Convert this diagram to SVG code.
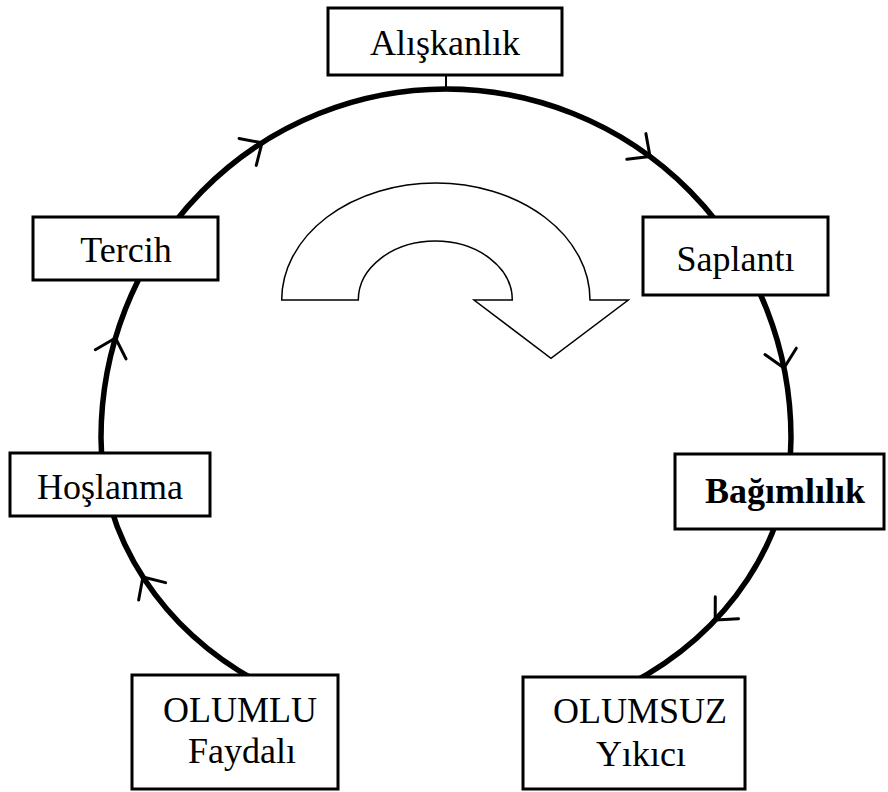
<svg xmlns="http://www.w3.org/2000/svg" width="888" height="792" viewBox="0 0 888 792">
  <style>
    .box { fill: #ffffff; stroke: #000000; stroke-width: 3; }
    .lbl { font-family: "Liberation Serif", "Times New Roman", serif; font-size: 36px; fill: #000000; text-anchor: middle; }
    .bold { font-weight: bold; }
    .ring { fill: none; stroke: #000000; stroke-width: 5.5; }
    .chev { fill: none; stroke: #000000; stroke-width: 3; stroke-linecap: round; stroke-linejoin: round; }
    .big { fill: #ffffff; stroke: #000000; stroke-width: 1.5; stroke-linejoin: miter; }
  </style>
  <defs>
    <polyline id="chevron" class="chev" points="-17,-16 0,0 -17,16"/>
  </defs>

  <rect width="888" height="792" fill="#ffffff"/>

  <g id="connectors">
    <path class="ring" d="M 263.6,685 A 345 291 0 0 1 101,438 A 345 349 0 0 1 446,89 A 345 349 0 0 1 791,438 A 345 291 0 0 1 628.4,685"/>
    <line x1="446" y1="75" x2="446" y2="89" stroke="#000000" stroke-width="2"/>
    <use href="#chevron" transform="translate(262,142.8) rotate(-32.5)"/>
    <use href="#chevron" transform="translate(650,156.6) rotate(36.6)"/>
    <use href="#chevron" transform="translate(784,368) rotate(78.6)"/>
    <use href="#chevron" transform="translate(715.2,620) rotate(133.5)"/>
    <use href="#chevron" transform="translate(142.9,577) rotate(-122.8)"/>
    <use href="#chevron" transform="translate(115.5,338) rotate(-73.5)"/>
  </g>

  <g id="cycle-arrow">
    <path class="big" d="M 281.7,300 A 154.15 117 0 0 1 590,300 L 628.3,300 L 551,358.3 L 474,300 L 512.3,300 A 77 59 0 0 0 358.3,300 Z"/>
  </g>

  <g id="node-aliskanlik">
    <rect class="box" x="328" y="8" width="234" height="67"/>
    <text class="lbl" x="445" y="55">Alışkanlık</text>
  </g>
  <g id="node-tercih">
    <rect class="box" x="33" y="217" width="185" height="63"/>
    <text class="lbl" x="126" y="262">Tercih</text>
  </g>
  <g id="node-saplanti">
    <rect class="box" x="643" y="217" width="185" height="78"/>
    <text class="lbl" x="735.5" y="271">Saplantı</text>
  </g>
  <g id="node-hoslanma">
    <rect class="box" x="10" y="453" width="200" height="63"/>
    <text class="lbl" x="110" y="499">Hoşlanma</text>
  </g>
  <g id="node-bagimlilik">
    <rect class="box" x="675" y="454" width="209" height="75"/>
    <text class="lbl bold" x="785" y="503">Bağımlılık</text>
  </g>
  <g id="node-olumlu">
    <rect class="box" x="132" y="675" width="206" height="114"/>
    <text class="lbl" x="240" y="722">OLUMLU</text>
    <text class="lbl" x="242" y="763">Faydalı</text>
  </g>
  <g id="node-olumsuz">
    <rect class="box" x="523" y="677" width="222" height="112"/>
    <text class="lbl" x="640" y="723">OLUMSUZ</text>
    <text class="lbl" x="641" y="766">Yıkıcı</text>
  </g>
</svg>
